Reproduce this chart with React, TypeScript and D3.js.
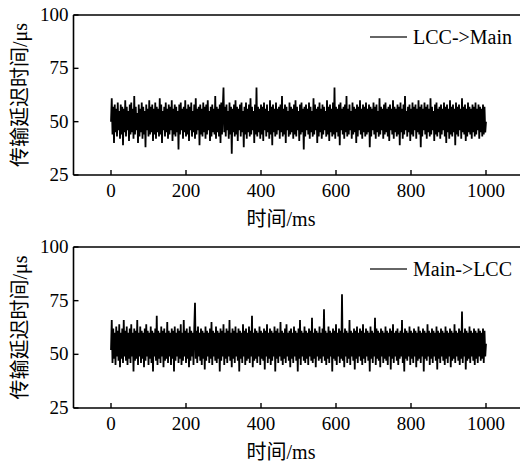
import React from 'react';
import * as d3 from 'd3';

// sample period in ms (one sample every 2 ms, 0..1000)
const STEP_MS = 2;

// LCC->Main delay, us
const lccToMain = [
  50, 61, 44, 57, 40, 58, 45, 56, 43, 59, 46, 55, 42, 58, 44, 57, 39, 56, 45, 60,
  43, 57, 46, 55, 41, 58, 44, 59, 45, 56, 42, 62, 44, 57, 46, 54, 40, 58, 43, 56,
  45, 59, 42, 57, 44, 55, 38, 58, 46, 56, 43, 60, 44, 57, 45, 58, 41, 56, 44, 59,
  42, 57, 45, 56, 43, 61, 44, 58, 40, 55, 46, 57, 43, 59, 45, 56, 42, 58, 44, 57,
  46, 60, 41, 56, 44, 58, 43, 57, 45, 55, 37, 58, 44, 59, 46, 56, 42, 57, 45, 60,
  43, 56, 44, 58, 41, 57, 46, 59, 43, 55, 45, 58, 42, 61, 44, 56, 46, 57, 39, 58,
  44, 56, 43, 59, 45, 57, 42, 58, 44, 60, 46, 55, 41, 57, 43, 58, 45, 56, 44, 62,
  42, 57, 45, 56, 43, 58, 40, 59, 44, 56, 66, 45, 57, 43, 58, 46, 55, 42, 59, 44,
  57, 35, 56, 45, 58, 43, 60, 44, 57, 41, 56, 46, 58, 43, 59, 45, 55, 38, 57, 44,
  59, 42, 56, 45, 58, 43, 61, 44, 57, 46, 55, 40, 58, 44, 66, 43, 57, 45, 56, 42,
  58, 44, 57, 41, 59, 46, 56, 43, 58, 45, 55, 42, 60, 44, 57, 39, 58, 45, 56, 43,
  59, 44, 56, 46, 57, 42, 58, 45, 62, 43, 56, 44, 58, 40, 57, 46, 55, 43, 59, 44,
  57, 45, 56, 42, 58, 44, 60, 43, 57, 46, 55, 41, 58, 44, 59, 45, 56, 37, 57, 43,
  58, 46, 56, 44, 59, 42, 57, 45, 55, 43, 61, 44, 58, 46, 56, 40, 57, 43, 59, 45,
  56, 42, 58, 44, 57, 46, 55, 43, 60, 44, 57, 41, 58, 45, 56, 43, 59, 44, 66, 42,
  57, 45, 56, 43, 58, 39, 59, 46, 56, 44, 57, 42, 58, 45, 62, 43, 56, 44, 58, 46,
  55, 42, 59, 44, 57, 45, 56, 40, 58, 43, 57, 46, 60, 44, 56, 42, 58, 45, 57, 43,
  59, 44, 56, 45, 58, 38, 57, 43, 56, 46, 59, 44, 57, 42, 58, 45, 55, 43, 61, 44,
  57, 46, 56, 42, 58, 44, 59, 45, 56, 43, 57, 41, 58, 46, 56, 44, 60, 42, 57, 45,
  56, 43, 58, 44, 57, 39, 59, 45, 56, 42, 58, 44, 62, 46, 55, 43, 57, 45, 58, 41,
  56, 44, 59, 43, 57, 46, 58, 42, 56, 45, 60, 44, 57, 38, 58, 43, 56, 46, 59, 44,
  57, 42, 58, 45, 56, 43, 61, 44, 57, 46, 55, 41, 58, 44, 59, 43, 56, 45, 57, 42,
  58, 44, 56, 46, 59, 43, 57, 40, 58, 45, 56, 42, 60, 44, 57, 43, 58, 45, 56, 39,
  59, 44, 57, 43, 58, 46, 56, 42, 61, 45, 57, 44, 58, 41, 56, 43, 59, 45, 57, 44,
  56, 42, 58, 45, 57, 43, 59, 44, 56, 46, 58, 42, 57, 45, 56, 43, 58, 44, 57, 45,
  50,
];

// Main->LCC delay, us
const mainToLcc = [
  52, 66, 46, 62, 48, 60, 45, 63, 49, 61, 47, 64, 44, 60, 48, 62, 46, 66, 49, 61,
  47, 63, 45, 60, 48, 62, 46, 64, 49, 60, 42, 62, 47, 61, 48, 66, 45, 60, 49, 63,
  46, 61, 48, 60, 44, 62, 47, 64, 49, 61, 45, 60, 48, 63, 46, 61, 42, 60, 49, 62,
  47, 68, 45, 61, 48, 60, 46, 63, 49, 61, 44, 62, 47, 60, 48, 65, 46, 61, 49, 60,
  45, 62, 48, 61, 42, 63, 47, 60, 49, 62, 46, 61, 48, 64, 45, 60, 47, 66, 49, 61,
  46, 62, 48, 60, 44, 63, 47, 61, 49, 60, 45, 62, 74, 48, 61, 46, 63, 49, 60, 47,
  62, 45, 61, 48, 60, 43, 63, 47, 61, 49, 60, 46, 62, 48, 65, 45, 61, 49, 60, 47,
  63, 46, 61, 48, 60, 42, 62, 47, 61, 49, 64, 45, 60, 48, 62, 46, 61, 49, 66, 47,
  60, 44, 62, 48, 61, 46, 63, 49, 60, 47, 62, 42, 61, 48, 60, 46, 64, 49, 61, 45,
  62, 47, 60, 48, 63, 46, 61, 49, 68, 44, 60, 47, 62, 48, 61, 46, 60, 49, 63, 45,
  61, 48, 60, 47, 62, 43, 61, 49, 64, 46, 60, 48, 62, 45, 61, 47, 60, 49, 63, 42,
  61, 48, 62, 46, 60, 49, 65, 47, 61, 45, 60, 48, 62, 46, 64, 49, 60, 47, 61, 44,
  62, 48, 60, 46, 63, 49, 61, 47, 60, 42, 62, 48, 66, 45, 61, 49, 60, 47, 63, 46,
  61, 48, 60, 45, 62, 49, 61, 47, 67, 46, 60, 48, 62, 44, 61, 49, 60, 47, 63, 48,
  60, 46, 62, 49, 71, 47, 61, 45, 60, 48, 63, 46, 61, 49, 60, 42, 62, 48, 61, 47,
  64, 45, 60, 49, 62, 46, 61, 48, 78, 47, 60, 44, 62, 49, 61, 46, 60, 48, 66, 45,
  61, 49, 60, 47, 62, 43, 61, 48, 63, 46, 60, 49, 62, 47, 61, 45, 64, 48, 60, 46,
  62, 49, 61, 47, 60, 42, 63, 48, 61, 46, 60, 49, 67, 45, 62, 48, 61, 47, 60, 44,
  62, 49, 61, 46, 60, 48, 63, 47, 61, 45, 60, 49, 62, 43, 61, 48, 64, 46, 60, 49,
  61, 47, 62, 45, 60, 48, 61, 49, 66, 46, 60, 42, 62, 48, 61, 47, 60, 49, 63, 45,
  61, 48, 60, 46, 62, 49, 61, 44, 60, 47, 63, 48, 61, 46, 60, 49, 62, 42, 61, 48,
  60, 47, 64, 49, 61, 45, 60, 48, 62, 46, 61, 49, 60, 47, 63, 43, 61, 48, 60, 46,
  62, 49, 61, 47, 60, 45, 63, 48, 61, 46, 60, 49, 62, 44, 61, 47, 60, 48, 64, 46,
  61, 49, 60, 47, 62, 45, 61, 48, 70, 46, 60, 49, 62, 43, 61, 47, 60, 48, 63, 46,
  61, 49, 60, 47, 62, 45, 61, 48, 60, 46, 62, 49, 61, 47, 60, 48, 62, 46, 61, 49,
  55,
];

const xTicks = [0, 200, 400, 600, 800, 1000];
const yTicks = [25, 50, 75, 100];

const FONT = "'Liberation Serif', 'Times New Roman', 'Noto Sans CJK SC', serif";

function Panel({ data, label, top, bottom }) {
  const x = d3.scaleLinear().domain([-100, 1100]).range([73.5, 523.5]);
  const y = d3.scaleLinear().domain([25, 100]).range([bottom, top]);
  const line = d3.line<number>()
    .x((d, i) => x(i * STEP_MS))
    .y((d) => y(d));
  const legY = top + 22;

  return (
    <g>
      <path d={line(data) || ''} fill="none" stroke="#000" strokeWidth={1.8} />
      {/* frame */}
      <line x1={x(-100)} x2={x(1100)} y1={top} y2={top} stroke="#000" strokeWidth={1.6} />
      <line x1={x(-100)} x2={x(1100)} y1={bottom} y2={bottom} stroke="#000" strokeWidth={1.6} />
      <line x1={x(-100)} x2={x(-100)} y1={top} y2={bottom} stroke="#000" strokeWidth={1.6} />
      {xTicks.map((t) => (
        <g key={'x' + t}>
          <line x1={x(t)} x2={x(t)} y1={bottom} y2={bottom - 5} stroke="#000" strokeWidth={1.4} />
          <text x={x(t)} y={bottom + 22} textAnchor="middle" fontSize={19}>{t}</text>
        </g>
      ))}
      {yTicks.map((t) => (
        <g key={'y' + t}>
          <line x1={x(-100)} x2={x(-100) + 5} y1={y(t)} y2={y(t)} stroke="#000" strokeWidth={1.4} />
          <text x={x(-100) - 5} y={y(t) + 6} textAnchor="end" fontSize={19}>{t}</text>
        </g>
      ))}
      <text x={281} y={bottom + 51} textAnchor="middle" fontSize={20}>时间/ms</text>
      <text
        transform={`translate(27,${(top + bottom) / 2}) rotate(-90)`}
        textAnchor="middle"
        fontSize={20}
      >传输延迟时间/μs</text>
      {/* legend */}
      <line x1={370} x2={407} y1={legY} y2={legY} stroke="#333" strokeWidth={1.3} />
      <text x={413} y={legY + 7} fontSize={20}>{label}</text>
    </g>
  );
}

export default function App() {
  return (
    <svg
      width={520}
      height={466}
      style={{ position: 'absolute', left: 0, top: 0, background: '#fff', fontFamily: FONT }}
    >
      <Panel data={lccToMain} label="LCC->Main" top={15} bottom={175} />
      <Panel data={mainToLcc} label="Main->LCC" top={247} bottom={408} />
    </svg>
  );
}
